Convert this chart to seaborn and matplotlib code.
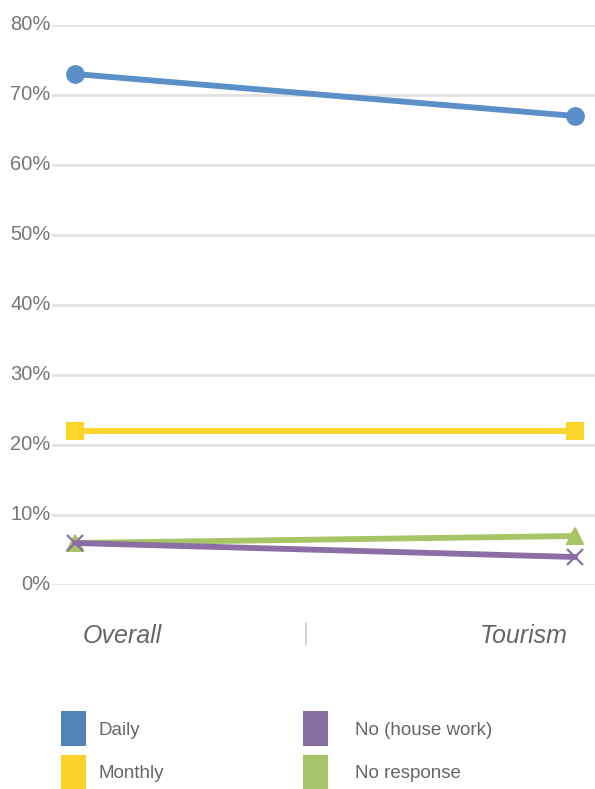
import pandas as pd
import matplotlib.pyplot as plt
import seaborn as sns
from matplotlib.patches import Patch
from matplotlib.ticker import PercentFormatter

# ------------------------
# DADOS
# ------------------------
categories = ["Overall", "Tourism"]
series_names = ["Daily", "Monthly", "No (house work)", "No response"]
daily = [73, 67]
monthly = [22, 22]
no_house_work = [6, 4]
no_response = [6, 7]

colors = {"Daily": "#5b8fc8", "Monthly": "#fdd42a",
          "No (house work)": "#8b6ea6", "No response": "#a7c566"}
legend_colors = {"Daily": "#5283b7", "Monthly": "#fdd22a",
                 "No (house work)": "#866d9d", "No response": "#a8c46a"}
markers = {"Daily": "o", "Monthly": "s", "No (house work)": "x", "No response": "^"}

df = pd.DataFrame({
    "pos": list(range(len(categories))) * 4,
    "value": daily + monthly + no_house_work + no_response,
    "series": [s for s in series_names for _ in categories],
})

# ------------------------
# FIGURA
# ------------------------
sns.set_style("white")
plt.rcParams["font.family"] = ["Liberation Sans", "DejaVu Sans"]

fig = plt.figure(figsize=(5.95, 7.89), dpi=100)
ax = fig.add_axes([52 / 595, 1 - 585 / 789, 543 / 595, 560 / 789])

# Linhas (ordem de desenho: verde por baixo do roxo)
for name in ["Daily", "Monthly", "No response", "No (house work)"]:
    sub = df[df["series"] == name]
    c = colors[name]
    sns.lineplot(data=sub, x="pos", y="value", ax=ax, color=c, linewidth=4.2,
                 marker=markers[name], markersize=12 if name != "No (house work)" else 11,
                 markeredgecolor=c, markerfacecolor=c,
                 markeredgewidth=1.5 if name != "No (house work)" else 1.6,
                 legend=False, zorder=3)

ax.set_xlim(-23 / 500, 1 + 20 / 500)
ax.set_ylim(0, 80)
ax.set_yticks(range(0, 81, 10))
ax.yaxis.set_major_formatter(PercentFormatter(decimals=0))
ax.set_xticks([])
ax.set_xlabel("")
ax.set_ylabel("")
ax.grid(axis="y", color="#e2e2e2", linewidth=2)
ax.set_axisbelow(True)
for s in ax.spines.values():
    s.set_visible(False)
ax.tick_params(axis="y", length=0, pad=1, labelsize=14.5, labelcolor="#777777")
for lbl in ax.get_yticklabels():
    lbl.set_verticalalignment("center")

# Rótulos das categorias
fig.text(122 / 595, 1 - 636 / 789, categories[0], ha="center", va="center",
         fontsize=18, style="italic", color="#666666")
fig.text(524 / 595, 1 - 636 / 789, categories[1], ha="center", va="center",
         fontsize=18, style="italic", color="#666666")
fig.add_artist(plt.Line2D([306 / 595, 306 / 595], [1 - 623 / 789, 1 - 645 / 789],
                          color="#cccccc", linewidth=1.2))

# Legenda (duas colunas separadas)
handles = [Patch(facecolor=legend_colors[n], edgecolor="none", label=n) for n in series_names]
leg_kw = dict(loc="upper left", frameon=False, fontsize=13.5, labelcolor="#666666",
              handlelength=1.3, handleheight=2.5, labelspacing=0.45, borderpad=0)
fig.legend(handles=handles[:2], bbox_to_anchor=(52 / 595, 1 - 702 / 789),
           handletextpad=0.7, **leg_kw)
fig.legend(handles=handles[2:], bbox_to_anchor=(294 / 595, 1 - 702 / 789),
           handletextpad=1.45, **leg_kw)

fig.savefig("out.png", dpi=100)
